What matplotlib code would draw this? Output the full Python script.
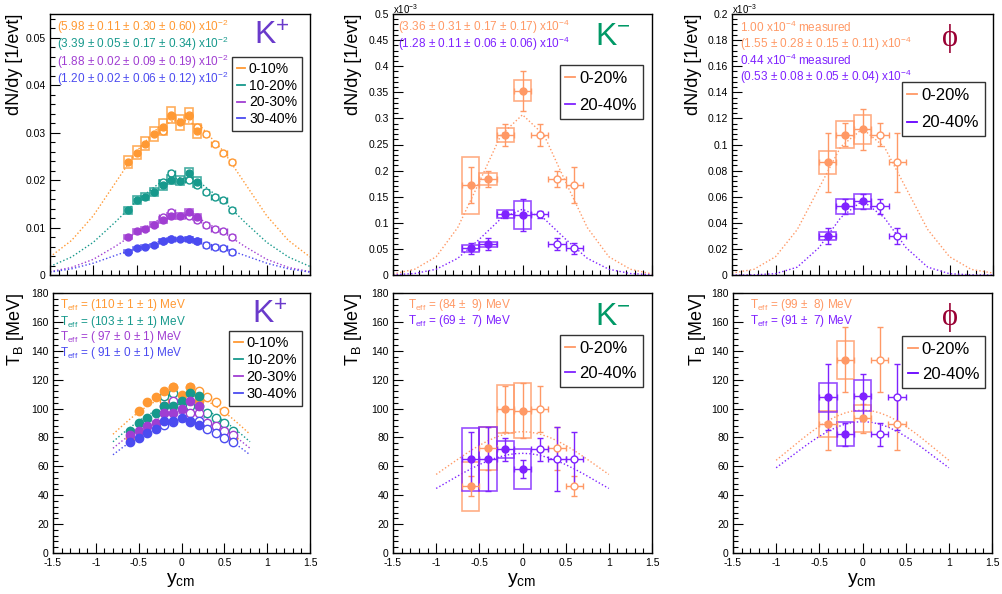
import matplotlib
matplotlib.use("Agg")
import matplotlib.pyplot as plt
from matplotlib.patches import Rectangle
from matplotlib.lines import Line2D
from matplotlib.ticker import MultipleLocator, FuncFormatter
import numpy as np

plt.rcParams['font.family'] = ['Liberation Sans', 'DejaVu Sans']
plt.rcParams['mathtext.fontset'] = 'custom'
plt.rcParams['mathtext.rm'] = 'Liberation Sans'
plt.rcParams['mathtext.it'] = 'Liberation Sans:italic'
plt.rcParams['mathtext.default'] = 'regular'

# ---- K+ : 4 centrality classes, measured rapidity bins ----
cent_kp = ['0-10%', '10-20%', '20-30%', '30-40%']
y_kp = [-0.6, -0.5, -0.4, -0.3, -0.2, -0.1, 0.0, 0.1, 0.2]
dndy_kp_0010 = [0.0238, 0.0258, 0.0277, 0.0297, 0.0312, 0.0337, 0.0322, 0.0335, 0.0303]
dndy_kp_1020 = [0.0136, 0.0158, 0.0165, 0.0175, 0.0190, 0.0201, 0.0199, 0.0215, 0.0196]
dndy_kp_2030 = [0.0080, 0.0092, 0.0097, 0.0106, 0.0116, 0.0125, 0.0125, 0.0132, 0.0122]
dndy_kp_3040 = [0.0049, 0.0056, 0.0060, 0.0063, 0.0072, 0.0075, 0.0075, 0.0076, 0.0072]
sys_kp_0010 = [0.0012, 0.0013, 0.0014, 0.0015, 0.0016, 0.0017, 0.0016, 0.0017, 0.0015]
sys_kp_1020 = [0.0007, 0.0008, 0.0008, 0.0009, 0.0010, 0.0010, 0.0010, 0.0011, 0.0010]
sys_kp_2030 = [0.0004, 0.0005, 0.0005, 0.0005, 0.0006, 0.0006, 0.0006, 0.0007, 0.0006]
sys_kp_3040 = [0.0003, 0.0003, 0.0003, 0.0003, 0.0004, 0.0004, 0.0004, 0.0004, 0.0004]
tb_kp_0010 = [79.6, 98.3, 104.5, 108.2, 111.9, 114.9, 109.6, 114.9, 105.5]
tb_kp_1020 = [84.7, 89.8, 93.5, 97.2, 101.8, 101.8, 105.5, 110.6, 108.7]
tb_kp_2030 = [81.7, 84.7, 88.0, 89.8, 97.2, 97.2, 99.7, 105.5, 102.0]
tb_kp_3040 = [77.0, 79.4, 82.8, 86.0, 91.4, 91.4, 93.2, 91.0, 88.6]

fit_y_wide = [-1.5, -1.25, -1.0, -0.75, -0.5, -0.25, 0.0, 0.25, 0.5, 0.75, 1.0, 1.25, 1.5]
fit_dndy_kp_0010 = [0.0038, 0.0073, 0.0125, 0.0193, 0.0261, 0.0311, 0.0330, 0.0311, 0.0261, 0.0193, 0.0125, 0.0073, 0.0038]
fit_dndy_kp_1020 = [0.0018, 0.0038, 0.0069, 0.0111, 0.0156, 0.0192, 0.0205, 0.0192, 0.0156, 0.0111, 0.0069, 0.0038, 0.0018]
fit_dndy_kp_2030 = [0.0007, 0.0016, 0.0033, 0.0060, 0.0090, 0.0116, 0.0127, 0.0116, 0.0090, 0.0060, 0.0033, 0.0016, 0.0007]
fit_dndy_kp_3040 = [0.0006, 0.0013, 0.0025, 0.0041, 0.0057, 0.0070, 0.0076, 0.0070, 0.0057, 0.0041, 0.0025, 0.0013, 0.0006]

fit_y_kp_tb = [-0.8, -0.7, -0.6, -0.5, -0.4, -0.3, -0.2, -0.1, 0.0, 0.1, 0.2, 0.3, 0.4, 0.5, 0.6, 0.7, 0.8]
fit_tb_kp_0010 = [82.2, 87.6, 92.8, 97.6, 101.7, 105.2, 107.8, 109.5, 110.0, 109.5, 107.8, 105.2, 101.7, 97.6, 92.8, 87.6, 82.2]
fit_tb_kp_1020 = [77.0, 82.1, 86.9, 91.3, 95.3, 98.5, 101.0, 102.5, 103.0, 102.5, 101.0, 98.5, 95.3, 91.3, 86.9, 82.1, 77.0]
fit_tb_kp_2030 = [72.5, 77.3, 81.8, 86.0, 89.7, 92.8, 95.1, 96.5, 97.0, 96.5, 95.1, 92.8, 89.7, 86.0, 81.8, 77.3, 72.5]
fit_tb_kp_3040 = [68.0, 72.5, 76.8, 80.7, 84.2, 87.1, 89.2, 90.5, 91.0, 90.5, 89.2, 87.1, 84.2, 80.7, 76.8, 72.5, 68.0]

text_kp_dndy = ['(5.98 $\\pm$ 0.11 $\\pm$ 0.30 $\\pm$ 0.60) x10$^{-2}$',
                '(3.39 $\\pm$ 0.05 $\\pm$ 0.17 $\\pm$ 0.34) x10$^{-2}$',
                '(1.88 $\\pm$ 0.02 $\\pm$ 0.09 $\\pm$ 0.19) x10$^{-2}$',
                '(1.20 $\\pm$ 0.02 $\\pm$ 0.06 $\\pm$ 0.12) x10$^{-2}$']
text_kp_tb = ['T$_{eff}$ = (110 $\\pm$ 1 $\\pm$ 1) MeV',
              'T$_{eff}$ = (103 $\\pm$ 1 $\\pm$ 1) MeV',
              'T$_{eff}$ = ( 97 $\\pm$ 0 $\\pm$ 1) MeV',
              'T$_{eff}$ = ( 91 $\\pm$ 0 $\\pm$ 1) MeV']

# ---- K- and phi : 2 centrality classes ----
cent_2 = ['0-20%', '20-40%']
y_km = [-0.6, -0.4, -0.2, 0.0]
dndy_km_0020 = [0.172, 0.184, 0.268, 0.353]
stat_dndy_km_0020 = [0.035, 0.016, 0.021, 0.038]
sys_dndy_km_0020 = [0.055, 0.011, 0.014, 0.020]
dndy_km_2040 = [0.051, 0.059, 0.1165, 0.115]
stat_dndy_km_2040 = [0.010, 0.011, 0.007, 0.030]
sys_dndy_km_2040 = [0.006, 0.005, 0.008, 0.026]
tb_km_0020 = [46.3, 72.4, 99.5, 98.6]
stat_tb_km_0020 = [7.0, 15.0, 16.0, 19.0]
sys_tb_km_0020 = [17.0, 15.0, 16.5, 19.0]
tb_km_2040 = [64.8, 65.0, 71.7, 58.1]
stat_tb_km_2040 = [19.0, 22.0, 8.0, 6.0]
sys_tb_km_2040 = [22.0, 22.0, 6.0, 14.0]
fit_dndy_km_0020 = [0.002, 0.011, 0.035, 0.091, 0.178, 0.268, 0.307, 0.268, 0.178, 0.091, 0.035, 0.011, 0.002]
fit_dndy_km_2040 = [0.0005, 0.0028, 0.011, 0.032, 0.0685, 0.108, 0.126, 0.108, 0.0685, 0.032, 0.011, 0.0028, 0.0005]
fit_y_tb = [-1.0, -0.9, -0.8, -0.7, -0.6, -0.5, -0.4, -0.3, -0.2, -0.1, 0.0,
            0.1, 0.2, 0.3, 0.4, 0.5, 0.6, 0.7, 0.8, 0.9, 1.0]
fit_tb_km_0020 = [54.4, 58.6, 62.8, 66.9, 70.9, 74.5, 77.7, 80.4, 82.3, 83.6, 84.0,
                  83.6, 82.3, 80.4, 77.7, 74.5, 70.9, 66.9, 62.8, 58.6, 54.4]
fit_tb_km_2040 = [44.7, 48.1, 51.6, 55.0, 58.2, 61.2, 63.8, 66.0, 67.6, 68.7, 69.0,
                  68.7, 67.6, 66.0, 63.8, 61.2, 58.2, 55.0, 51.6, 48.1, 44.7]
text_km_dndy = ['(3.36 $\\pm$ 0.31 $\\pm$ 0.17 $\\pm$ 0.17) x10$^{-4}$',
                '(1.28 $\\pm$ 0.11 $\\pm$ 0.06 $\\pm$ 0.06) x10$^{-4}$']
text_km_tb = ['T$_{eff}$ = (84 $\\pm$  9) MeV', 'T$_{eff}$ = (69 $\\pm$  7) MeV']

y_phi = [-0.4, -0.2, 0.0]
dndy_phi_0020 = [0.0863, 0.1076, 0.1115]
stat_dndy_phi_0020 = [0.0225, 0.009, 0.0155]
sys_dndy_phi_0020 = [0.009, 0.0105, 0.0113]
dndy_phi_2040 = [0.030, 0.0525, 0.0564]
stat_dndy_phi_2040 = [0.006, 0.0055, 0.0055]
sys_dndy_phi_2040 = [0.003, 0.0055, 0.0058]
tb_phi_0020 = [89.1, 133.7, 93.2]
stat_tb_phi_0020 = [17.7, 22.5, 10.0]
sys_tb_phi_0020 = [9.0, 13.3, 9.6]
tb_phi_2040 = [107.8, 82.1, 109.0]
stat_tb_phi_2040 = [22.9, 8.0, 15.0]
sys_tb_phi_2040 = [10.2, 8.3, 10.8]
fit_dndy_phi_0020 = [0.0015, 0.0043, 0.014, 0.0348, 0.0666, 0.0983, 0.112, 0.0983, 0.0666, 0.0348, 0.014, 0.0043, 0.0015]
fit_dndy_phi_2040 = [0.0, 0.0001, 0.001, 0.006, 0.021, 0.044, 0.057, 0.044, 0.021, 0.006, 0.001, 0.0001, 0.0]
fit_tb_phi_0020 = [64.2, 69.1, 74.0, 78.9, 83.5, 87.8, 91.6, 94.7, 97.0, 98.5, 99.0,
                   98.5, 97.0, 94.7, 91.6, 87.8, 83.5, 78.9, 74.0, 69.1, 64.2]
fit_tb_phi_2040 = [59.0, 63.5, 68.0, 72.5, 76.8, 80.7, 84.2, 87.1, 89.2, 90.5, 91.0,
                   90.5, 89.2, 87.1, 84.2, 80.7, 76.8, 72.5, 68.0, 63.5, 59.0]
text_phi_dndy = ['1.00 x10$^{-4}$ measured',
                 '(1.55 $\\pm$ 0.28 $\\pm$ 0.15 $\\pm$ 0.11) x10$^{-4}$',
                 '0.44 x10$^{-4}$ measured',
                 '(0.53 $\\pm$ 0.08 $\\pm$ 0.05 $\\pm$ 0.04) x10$^{-4}$']
text_phi_tb = ['T$_{eff}$ = (99 $\\pm$  8) MeV', 'T$_{eff}$ = (91 $\\pm$  7) MeV']

KP_COLORS = ['#ff9933', '#17998c', '#a03ed2', '#4b4bf0']
C2_COLORS = ['#ff9966', '#7f22ff']

W, H = 1002, 594
fig = plt.figure(figsize=(W / 100, H / 100), dpi=100)


def px_axes(l, t, r, b):
    return fig.add_axes([l / W, 1 - b / H, (r - l) / W, (b - t) / H])


def style(ax, ymax, ymaj, ymin, xlabels):
    ax.set_xlim(-1.5, 1.5)
    ax.set_ylim(0, ymax)
    ax.xaxis.set_major_locator(MultipleLocator(0.5))
    ax.xaxis.set_minor_locator(MultipleLocator(0.1))
    ax.yaxis.set_major_locator(MultipleLocator(ymaj))
    ax.yaxis.set_minor_locator(MultipleLocator(ymin))
    fmt = FuncFormatter(lambda v, _: f"{round(v, 6):g}")
    ax.xaxis.set_major_formatter(fmt)
    ax.yaxis.set_major_formatter(fmt)
    ax.tick_params(which='both', direction='in', top=False, right=False,
                   labelsize=7.5, width=0.8)
    ax.tick_params(which='major', length=7)
    ax.tick_params(which='minor', length=3.5)
    ax.tick_params(axis='y', pad=3)
    if not xlabels:
        ax.tick_params(labelbottom=False)
    for s in ax.spines.values():
        s.set_linewidth(1.0)


def draw(ax, x, v, color, stat=None, sys=None, xerr=None, box_hw=0.1, ms=5,
         open_xerr=None, box_alpha=0.8):
    x = np.asarray(x, float)
    v = np.asarray(v, float)
    st = None if stat is None else np.asarray(stat, float)
    if sys is not None:
        for xi, vi, si in zip(x, v, sys):
            ax.add_patch(Rectangle((xi - box_hw, vi - si), 2 * box_hw, 2 * si,
                                   fill=False, ec=color, lw=1.2, alpha=box_alpha, zorder=3))
    m = x != 0
    ax.errorbar(-x[m], v[m], yerr=None if st is None else st[m],
                xerr=open_xerr, fmt='o', ms=ms, mfc='white', mec=color,
                ecolor=color, mew=1.0, elinewidth=1.0, capsize=2.5, zorder=4)
    ax.errorbar(x, v, yerr=st, xerr=xerr, fmt='o', ms=ms, color=color,
                mew=1.0, elinewidth=1.0, capsize=2.5, zorder=5)


def legend(ax, colors, labels, anchor, size, spacing):
    handles = [Line2D([], [], color=c, lw=1.3) for c in colors]
    lg = ax.legend(handles, labels, loc='upper right', bbox_to_anchor=anchor,
                   fontsize=size, frameon=True, fancybox=False, edgecolor='black',
                   handlelength=0.6, handletextpad=0.25, labelspacing=spacing,
                   borderpad=0.35, borderaxespad=0.0)
    lg.get_frame().set_linewidth(1.0)
    lg.set_zorder(10)


def dotted(ax, x, v, color):
    ax.plot(x, v, color=color, lw=1.0, ls=(0, (1, 1.6)), zorder=2)


def titles(ax, label, color, xy, family=None, size=23):
    ax.text(xy[0], xy[1], label, transform=ax.transAxes, color=color,
            fontsize=size, ha='center', va='center', family=family)


ax_tl = px_axes(50, 14, 310, 275)
ax_tm = px_axes(393, 14, 652, 275)
ax_tr = px_axes(732, 14, 993, 275)
ax_bl = px_axes(53, 293, 310, 553)
ax_bm = px_axes(393, 293, 652, 553)
ax_br = px_axes(733, 293, 992, 553)

# ---- top-left: K+ dN/dy ----
style(ax_tl, 0.055, 0.01, 0.002, False)
kp_dndy = [dndy_kp_0010, dndy_kp_1020, dndy_kp_2030, dndy_kp_3040]
kp_sys = [sys_kp_0010, sys_kp_1020, sys_kp_2030, sys_kp_3040]
kp_fit = [fit_dndy_kp_0010, fit_dndy_kp_1020, fit_dndy_kp_2030, fit_dndy_kp_3040]
for vals, sy, fit, c in zip(kp_dndy, kp_sys, kp_fit, KP_COLORS):
    dotted(ax_tl, fit_y_wide, fit, c)
    draw(ax_tl, y_kp, vals, c, sys=sy, box_hw=0.045, ms=5, open_xerr=0.04)
for i, (t, c) in enumerate(zip(text_kp_dndy, KP_COLORS)):
    ax_tl.text(0.027, [0.950, 0.884, 0.818, 0.752][i], t, color=c, fontsize=8.5,
               transform=ax_tl.transAxes, va='center')
titles(ax_tl, 'K$^{+}$', '#6a3acb', (0.855, 0.912))
legend(ax_tl, KP_COLORS, cent_kp, (0.969, 0.835), 10, 0.2)

# ---- top-middle: K- dN/dy ----
style(ax_tm, 0.5, 0.05, 0.01, False)
dotted(ax_tm, fit_y_wide, fit_dndy_km_0020, C2_COLORS[0])
dotted(ax_tm, fit_y_wide, fit_dndy_km_2040, C2_COLORS[1])
draw(ax_tm, y_km, dndy_km_0020, C2_COLORS[0], stat_dndy_km_0020, sys_dndy_km_0020,
     xerr=0.1, open_xerr=0.1)
draw(ax_tm, y_km, dndy_km_2040, C2_COLORS[1], stat_dndy_km_2040, sys_dndy_km_2040,
     xerr=0.1, open_xerr=0.1)
for i, (t, c) in enumerate(zip(text_km_dndy, C2_COLORS)):
    ax_tm.text(0.02, [0.950, 0.885][i], t, color=c, fontsize=8.5,
               transform=ax_tm.transAxes, va='center')
titles(ax_tm, 'K$^{-}$', '#009966', (0.85, 0.912))
legend(ax_tm, C2_COLORS, cent_2, (0.965, 0.805), 12, 0.75)
fig.text(393 / W, 1 - 9 / H, 'x10$^{-3}$', fontsize=7, va='center', ha='left')

# ---- top-right: phi dN/dy ----
style(ax_tr, 0.2, 0.02, 0.004, False)
dotted(ax_tr, fit_y_wide, fit_dndy_phi_0020, C2_COLORS[0])
dotted(ax_tr, fit_y_wide, fit_dndy_phi_2040, C2_COLORS[1])
draw(ax_tr, y_phi, dndy_phi_0020, C2_COLORS[0], stat_dndy_phi_0020, sys_dndy_phi_0020,
     xerr=0.1, open_xerr=0.1)
draw(ax_tr, y_phi, dndy_phi_2040, C2_COLORS[1], stat_dndy_phi_2040, sys_dndy_phi_2040,
     xerr=0.1, open_xerr=0.1)
for i, t in enumerate(text_phi_dndy):
    ax_tr.text(0.03, [0.950, 0.886, 0.822, 0.758][i], t, color=C2_COLORS[i // 2],
               fontsize=8.5, transform=ax_tr.transAxes, va='center')
titles(ax_tr, '\u03d5', '#990033', (0.835, 0.905), ['Liberation Serif', 'DejaVu Serif'], 22)
legend(ax_tr, ['#ff9966', '#6600ff'], cent_2, (0.969, 0.739), 12, 0.75)
fig.text(732 / W, 1 - 9 / H, 'x10$^{-3}$', fontsize=7, va='center', ha='left')

# ---- bottom-left: K+ T_B ----
style(ax_bl, 180, 20, 4, True)
kp_tb = [tb_kp_0010, tb_kp_1020, tb_kp_2030, tb_kp_3040]
kp_tbfit = [fit_tb_kp_0010, fit_tb_kp_1020, fit_tb_kp_2030, fit_tb_kp_3040]
for vals, fit, c in zip(kp_tb, kp_tbfit, KP_COLORS):
    dotted(ax_bl, fit_y_kp_tb, fit, c)
for vals, c in zip(kp_tb, KP_COLORS):
    draw(ax_bl, y_kp, vals, c, ms=6)
for i, (t, c) in enumerate(zip(text_kp_tb, KP_COLORS)):
    ax_bl.text(0.027, [0.954, 0.890, 0.830, 0.768][i], t, color=c, fontsize=8.5,
               transform=ax_bl.transAxes, va='center')
titles(ax_bl, 'K$^{+}$', '#6a3acb', (0.845, 0.912))
legend(ax_bl, KP_COLORS, cent_kp, (0.969, 0.854), 10.5, 0.2)

# ---- bottom-middle: K- T_B ----
style(ax_bm, 180, 20, 4, True)
dotted(ax_bm, fit_y_tb, fit_tb_km_0020, C2_COLORS[0])
dotted(ax_bm, fit_y_tb, fit_tb_km_2040, C2_COLORS[1])
draw(ax_bm, y_km, tb_km_0020, C2_COLORS[0], stat_tb_km_0020, sys_tb_km_0020,
     xerr=0.1, open_xerr=0.1)
draw(ax_bm, y_km, tb_km_2040, C2_COLORS[1], stat_tb_km_2040, sys_tb_km_2040,
     xerr=0.1, open_xerr=0.1)
for i, (t, c) in enumerate(zip(text_km_tb, C2_COLORS)):
    ax_bm.text(0.058, [0.954, 0.892][i], t, color=c, fontsize=8.5,
               transform=ax_bm.transAxes, va='center')
titles(ax_bm, 'K$^{-}$', '#009966', (0.85, 0.907))
legend(ax_bm, C2_COLORS, cent_2, (0.965, 0.838), 12, 0.6)

# ---- bottom-right: phi T_B ----
style(ax_br, 180, 20, 4, True)
dotted(ax_br, fit_y_tb, fit_tb_phi_0020, C2_COLORS[0])
dotted(ax_br, fit_y_tb, fit_tb_phi_2040, C2_COLORS[1])
draw(ax_br, y_phi, tb_phi_0020, C2_COLORS[0], stat_tb_phi_0020, sys_tb_phi_0020,
     xerr=0.1, open_xerr=0.1)
draw(ax_br, y_phi, tb_phi_2040, C2_COLORS[1], stat_tb_phi_2040, sys_tb_phi_2040,
     xerr=0.1, open_xerr=0.1)
for i, (t, c) in enumerate(zip(text_phi_tb, C2_COLORS)):
    ax_br.text(0.066, [0.954, 0.892][i], t, color=c, fontsize=8.5,
               transform=ax_br.transAxes, va='center')
titles(ax_br, '\u03d5', '#990033', (0.838, 0.905), ['Liberation Serif', 'DejaVu Serif'], 22)
legend(ax_br, ['#ff9966', '#6600ff'], cent_2, (0.973, 0.835), 12, 0.6)

# ---- axis titles ----
for xc in (15, 354, 694):
    fig.text(xc / W, 1 - 14 / H, 'dN/dy [1/evt]', rotation=90, fontsize=13,
             ha='center', va='top')
for xc in (15, 354, 697):
    fig.text(xc / W, 1 - 293 / H, 'T$_{B}$ [MeV]', rotation=90, fontsize=13,
             ha='center', va='top')
for xc in (181, 522, 862):
    fig.text(xc / W, 1 - 580 / H, 'y$_{cm}$', fontsize=14, ha='center', va='center')

fig.savefig('out.png', dpi=100)
